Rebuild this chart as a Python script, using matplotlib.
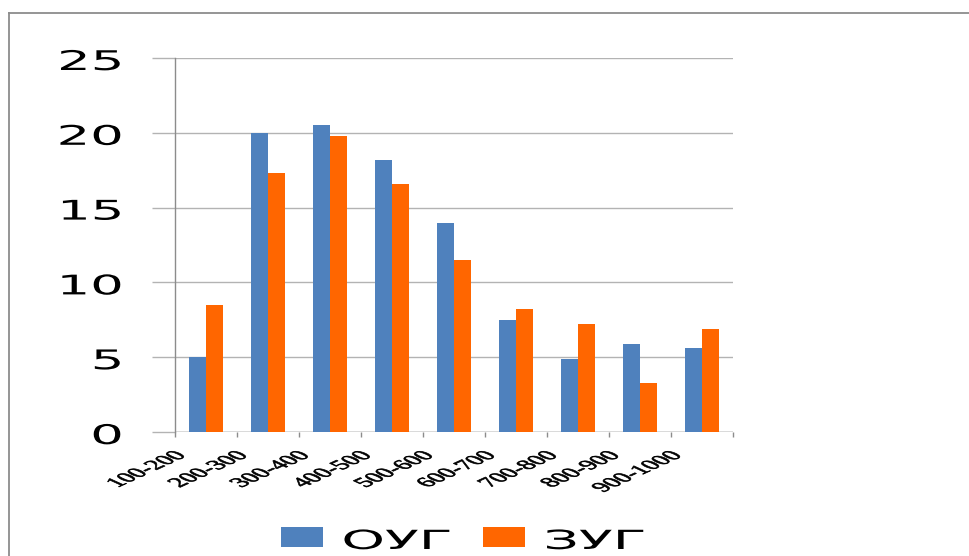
import matplotlib
matplotlib.use('Agg')
import matplotlib.pyplot as plt
from matplotlib.patches import Patch
from matplotlib.patheffects import AbstractPathEffect
from matplotlib.transforms import Affine2D, ScaledTranslation
from matplotlib.lines import Line2D
from matplotlib.font_manager import FontProperties
import numpy as np

categories = ['100-200', '200-300', '300-400', '400-500', '500-600',
              '600-700', '700-800', '800-900', '900-1000']
oug = [5.0, 20.0, 20.5, 18.2, 14.0, 7.5, 4.9, 5.9, 5.6]
zug = [8.5, 17.3, 19.8, 16.6, 11.5, 8.2, 7.2, 3.3, 6.9]
series_names = ['ОУГ', 'ЗУГ']
y_ticks = [0, 5, 10, 15, 20, 25]
colors = ['#4F81BD', '#FF6600']


class Stretch(AbstractPathEffect):
    """Render text glyphs (optionally rotated) stretched horizontally about an
    anchor; the text stays a real Text artist."""
    def __init__(self, sx, anchor='right', angle=0.0, dy=0.0, stroke=0.0):
        super().__init__()
        self.sx = sx
        self.anchor = anchor
        self.angle = angle
        self.dy = dy
        self.stroke = stroke

    def draw_path(self, renderer, gc, tpath, affine, rgbFace=None):
        ext = tpath.get_extents()
        if self.anchor == 'right':
            x0, y0 = ext.x1, 0
        elif self.anchor == 'left':
            x0, y0 = ext.x0, 0
        elif self.anchor == 'topright':
            x0, y0 = ext.x1, ext.y1
        else:
            x0, y0 = (ext.x0 + ext.x1) / 2, 0
        pre = (Affine2D().translate(-x0, -y0).rotate_deg(self.angle)
               .scale(self.sx, 1).translate(x0, y0))
        tr = (pre + affine + Affine2D().translate(0, -self.dy)).frozen()
        if self.stroke > 0:
            gc0 = renderer.new_gc()
            gc0.copy_properties(gc)
            gc0.set_linewidth(self.stroke)
            gc0.set_foreground(rgbFace if rgbFace is not None else 'black')
            renderer.draw_path(gc0, tpath, tr, rgbFace)
            gc0.restore()
        else:
            renderer.draw_path(gc, tpath, tr, rgbFace)


W, H = 970, 556
fig = plt.figure(figsize=(W / 100, H / 100), dpi=100)
ax = fig.add_axes([175 / W, 1 - 432 / H, (733 - 175) / W, (432 - 58) / H])

x = np.arange(len(categories))
bw = 0.28
ax.bar(x - bw / 2, oug, bw, color=colors[0], label=series_names[0], zorder=3)
ax.bar(x + bw / 2, zug, bw, color=colors[1], label=series_names[1], zorder=3)

ax.set_xlim(-0.5, len(categories) - 0.5)
ax.set_ylim(0, 25)
ax.set_yticks(y_ticks)
ax.yaxis.grid(True, color='#b3b3b3', lw=1)
ax.set_axisbelow(True)
for s in ['top', 'right', 'bottom']:
    ax.spines[s].set_visible(False)
ax.spines['left'].set_color('#8c8c8c')
ax.spines['left'].set_linewidth(1)
ax.axhline(0, color='#d4d4d4', lw=1.8, zorder=2.5)

ax.tick_params(axis='y', length=23 * 0.72, width=1, color='#b3b3b3',
               pad=30 * 0.72, labelsize=19.5, labelcolor='black')
for t in ax.get_yticklabels():
    t.set_path_effects([Stretch(1.95, 'right', dy=2)])

ax.set_xticks(x)
ax.set_xticklabels(categories, rotation=0, ha='right', va='top', fontsize=9.7)
for t in ax.get_xticklabels():
    t.set_fontfamily(['Liberation Serif', 'DejaVu Serif'])
    t.set_path_effects([Stretch(2.2, 'topright', angle=45, stroke=0.5)])
ax.tick_params(axis='x', which='major', length=0, pad=18 * 0.72)
ax.set_xticks(np.arange(-0.5, len(categories), 1), minor=True)
ax.tick_params(axis='x', which='minor', length=5 * 0.72, width=1,
               color='#8c8c8c', direction='out')
off = ScaledTranslation(-33 / 100, 0, fig.dpi_scale_trans)
for t in ax.get_xticklabels():
    t.set_transform(t.get_transform() + off)

# legend
leg_fs = 19
fs_px = leg_fs * 100 / 72
sx_leg = 2.1
renderer = fig.canvas.get_renderer()
tw, _, _ = renderer.get_text_width_height_descent(series_names[0], FontProperties(size=leg_fs), ismath=False)
colsp = (tw * (sx_leg - 1) + 29) / fs_px
handles = [Patch(facecolor=c, edgecolor='none') for c in colors]
leg = fig.legend(handles, series_names, loc='center left',
                 bbox_to_anchor=(281 / W, 1 - 539 / H), ncol=2, frameon=False,
                 fontsize=leg_fs, handlelength=42 / fs_px, handleheight=20 / fs_px,
                 handletextpad=20 / fs_px, columnspacing=colsp,
                 borderpad=0, borderaxespad=0)
for t in leg.get_texts():
    t.set_path_effects([Stretch(sx_leg, 'left', dy=3)])

# chart border (left and top visible)
fig.add_artist(Line2D([9.5 / W, 9.5 / W], [0, 1 - 13 / H], color='#8c8c8c', lw=1.3,
                      transform=fig.transFigure))
fig.add_artist(Line2D([9.5 / W, 1], [1 - 13 / H, 1 - 13 / H], color='#8c8c8c', lw=1.3,
                      transform=fig.transFigure))

fig.savefig('out.png', dpi=100)
